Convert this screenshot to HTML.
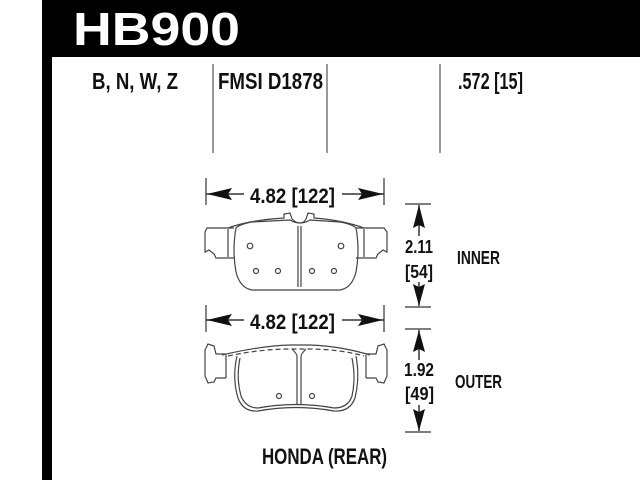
<!DOCTYPE html>
<html><head><meta charset="utf-8"><style>html,body{margin:0;padding:0;background:#fff}svg{display:block}</style></head>
<body>
<svg width="640" height="480" viewBox="0 0 640 480" xmlns="http://www.w3.org/2000/svg" font-family="Liberation Sans, sans-serif" font-weight="bold">
<rect x="0" y="0" width="640" height="480" fill="#fff"/>
<rect x="42" y="0" width="598" height="57" fill="#000"/>
<rect x="42" y="0" width="10" height="480" fill="#000"/>
<text x="73" y="45" font-size="46" fill="#fff" textLength="167" lengthAdjust="spacingAndGlyphs">HB900</text>
<g fill="#111" font-size="23">
<text x="92" y="89" textLength="86" lengthAdjust="spacingAndGlyphs">B, N, W, Z</text>
<text x="218" y="89" textLength="105" lengthAdjust="spacingAndGlyphs">FMSI D1878</text>
<text x="458" y="89" textLength="65" lengthAdjust="spacingAndGlyphs">.572 [15]</text>
</g>
<g stroke="#777" stroke-width="1.5">
<line x1="213" y1="64" x2="213" y2="153"/>
<line x1="327" y1="64" x2="327" y2="153"/>
<line x1="440" y1="64" x2="440" y2="153"/>
</g>
<!-- horizontal dims -->
<g stroke="#333" stroke-width="1.2" fill="#111">
<line x1="206" y1="178" x2="206" y2="205"/><line x1="384" y1="178" x2="384" y2="205"/>
<line x1="206" y1="194" x2="244" y2="194" stroke-width="1.5"/><line x1="342" y1="194" x2="384" y2="194" stroke-width="1.5"/>
<path d="M207 194 L232 188 L228 194 L232 200 Z" stroke="none"/>
<path d="M383 194 L358 188 L362 194 L358 200 Z" stroke="none"/>
<line x1="206" y1="305" x2="206" y2="332"/><line x1="384" y1="305" x2="384" y2="332"/>
<line x1="206" y1="320" x2="244" y2="320" stroke-width="1.5"/><line x1="342" y1="320" x2="384" y2="320" stroke-width="1.5"/>
<path d="M207 320 L232 314 L228 320 L232 326 Z" stroke="none"/>
<path d="M383 320 L358 314 L362 320 L358 326 Z" stroke="none"/>
</g>
<g fill="#111" font-size="21">
<text x="250" y="203" textLength="85" lengthAdjust="spacingAndGlyphs">4.82 [122]</text>
<text x="250" y="329" textLength="85" lengthAdjust="spacingAndGlyphs">4.82 [122]</text>
</g>
<!-- vertical dims -->
<g stroke="#333" stroke-width="1.2" fill="#111">
<line x1="405" y1="204" x2="431" y2="204"/><line x1="405" y1="307" x2="431" y2="307"/>
<line x1="419" y1="205" x2="419" y2="236" stroke-width="1.5"/><line x1="419" y1="282" x2="419" y2="306" stroke-width="1.5"/>
<path d="M419 205 L413 228 L419 225 L425 228 Z" stroke="none"/>
<path d="M419 306 L413 284 L419 287 L425 284 Z" stroke="none"/>
<line x1="405" y1="329" x2="431" y2="329"/><line x1="405" y1="432" x2="431" y2="432"/>
<line x1="419" y1="330" x2="419" y2="360" stroke-width="1.5"/><line x1="419" y1="405" x2="419" y2="431" stroke-width="1.5"/>
<path d="M419 330 L413 352 L419 349 L425 352 Z" stroke="none"/>
<path d="M419 431 L413 409 L419 412 L425 409 Z" stroke="none"/>
</g>
<g fill="#111" font-size="18">
<text x="405" y="253" textLength="28" lengthAdjust="spacingAndGlyphs">2.11</text>
<text x="405" y="278" textLength="28" lengthAdjust="spacingAndGlyphs">[54]</text>
<text x="457" y="264" textLength="43" lengthAdjust="spacingAndGlyphs">INNER</text>
<text x="404" y="376" textLength="30" lengthAdjust="spacingAndGlyphs">1.92</text>
<text x="405" y="400" textLength="29" lengthAdjust="spacingAndGlyphs">[49]</text>
<text x="455" y="388" textLength="47" lengthAdjust="spacingAndGlyphs">OUTER</text>
</g>
<text x="262" y="464" font-size="22" fill="#111" textLength="125" lengthAdjust="spacingAndGlyphs">HONDA (REAR)</text>
<!-- inner pad -->
<g fill="none" stroke="#444" stroke-width="1.2">
<path d="M234 228 L207 228 L205 232 L205 252 L209 250 L214 254 L216 258 L234 258"/>
<path d="M356 228 L384 228 L387 232 L387 252 L383 250 L378 254 L376 258 L356 258"/>
<path d="M228 228 Q250 220 284 218 L284 214 L290 213 L292 219 Q296 223 300 223 Q304 223 306 219 L308 213 L314 214 L314 218 Q342 220 364 228"/>
<path d="M236 228 Q232 250 236 272 Q240 288 252 290 L340 290 Q352 288 356 272 Q360 250 356 228 Q352 224 340 222 L310 220 Q300 226 290 220 L252 222 Q240 224 236 228 Z"/>
<line x1="298" y1="226" x2="298" y2="287"/><line x1="301" y1="226" x2="301" y2="287"/>
<line x1="228" y1="229" x2="228" y2="257"/><line x1="364" y1="229" x2="364" y2="257"/>
<circle cx="250" cy="246" r="2.8"/><circle cx="341" cy="246" r="2.8"/>
<circle cx="256" cy="271" r="2.5"/><circle cx="278" cy="271" r="2.5"/>
<circle cx="312" cy="271" r="2.5"/><circle cx="334" cy="271" r="2.5"/>
</g>
<!-- outer pad -->
<g fill="none" stroke="#444" stroke-width="1.2">
<path d="M226 354 L216 354 L214 346 L208 344 L205 350 L205 376 L208 383 L214 382 L216 378 L226 378"/>
<path d="M366 354 L376 354 L378 346 L384 344 L387 350 L387 376 L384 383 L378 382 L376 378 L366 378"/>
<path d="M222 355 Q260 346 290 345 L310 345 Q340 346 370 355"/>
<path d="M228 356 Q260 349 292 349 L306 349 Q340 349 364 356" stroke-dasharray="5 3"/>
<path d="M237 356 Q232 378 238 398 Q243 412 258 411 Q296 404 334 411 Q350 412 355 398 Q360 378 356 356"/>
<path d="M240 358 Q236 378 241 396 Q246 408 258 408 Q296 401 334 408 Q348 408 352 396 Q356 378 352 358"/>
<path d="M292 349 Q297 354 297 356 L297 405"/><path d="M306 349 Q301 354 301 356 L301 405"/>
<line x1="226" y1="355" x2="226" y2="378"/><line x1="366" y1="355" x2="366" y2="378"/>
<circle cx="279" cy="396" r="2.5"/><circle cx="312" cy="396" r="2.5"/>
</g>
</svg>
</body></html>
